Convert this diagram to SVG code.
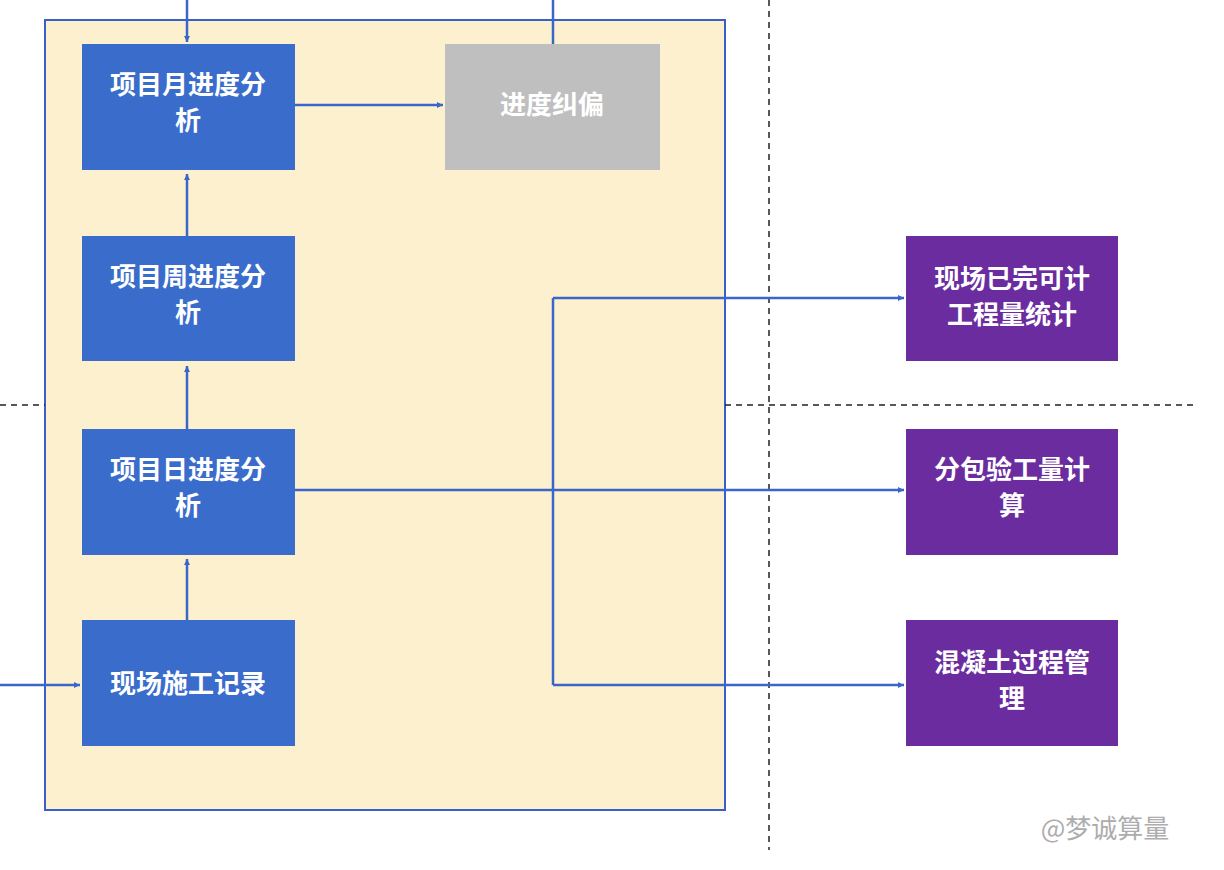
<svg xmlns="http://www.w3.org/2000/svg" width="1224" height="870" viewBox="0 0 1224 870">
<defs>
<marker id="a" viewBox="0 0 10 10" refX="10" refY="5" markerWidth="6" markerHeight="6" orient="auto" markerUnits="userSpaceOnUse"><path d="M0,0L10,5L0,10z" fill="#3a66c9"/></marker>
<style>
.b{fill:#3a6ccb}.p{fill:#6a2c9e}.g{fill:#bfbfbf}
text{font-family:"Noto Sans CJK SC",sans-serif;font-size:26px;font-weight:bold;fill:#fff;text-anchor:middle}
.c{stroke:#3a66c9;stroke-width:2.5;fill:none}
.c path{marker-end:url(#a)}
.d{stroke:#222;stroke-width:1.5;stroke-dasharray:6,5;fill:none}
</style>
</defs>
<rect width="1224" height="870" fill="#fff"/>
<rect x="45" y="20" width="680" height="790" fill="#fdf0cf" stroke="#3a5fc8" stroke-width="2"/>
<g class="d"><path d="M769 0V850"/><path d="M0 405H45"/><path d="M725 405H1195"/></g>
<g class="c">
<path d="M187 0V42"/>
<line x1="553" y1="0" x2="553" y2="44"/>
<path d="M295 105H443"/>
<path d="M187 236V174"/>
<path d="M187 429V366"/>
<path d="M187 620V559"/>
<path d="M0 685H80"/>
<path d="M295 490H904"/>
<line x1="553" y1="298" x2="553" y2="685"/>
<path d="M553 298H904"/>
<path d="M553 685H904"/>
</g>
<g id="n1"><rect class="b" x="82" y="44" width="213" height="126"/><text x="188" y="94">项目月进度分</text><text x="188" y="130">析</text></g>
<g id="n2"><rect class="g" x="445" y="44" width="215" height="126"/><text x="552" y="114">进度纠偏</text></g>
<g id="n3"><rect class="b" x="82" y="236" width="213" height="125"/><text x="188" y="286">项目周进度分</text><text x="188" y="322">析</text></g>
<g id="n4"><rect class="b" x="82" y="429" width="213" height="126"/><text x="188" y="479">项目日进度分</text><text x="188" y="515">析</text></g>
<g id="n5"><rect class="b" x="82" y="620" width="213" height="126"/><text x="188" y="693">现场施工记录</text></g>
<g id="n6"><rect class="p" x="906" y="236" width="212" height="125"/><text x="1012" y="288">现场已完可计</text><text x="1012" y="324">工程量统计</text></g>
<g id="n7"><rect class="p" x="906" y="429" width="212" height="126"/><text x="1012" y="479">分包验工量计</text><text x="1012" y="515">算</text></g>
<g id="n8"><rect class="p" x="906" y="620" width="212" height="126"/><text x="1012" y="672">混凝土过程管</text><text x="1012" y="708">理</text></g>
<text x="1105" y="838" style="fill:#999;font-weight:normal;font-size:26px;opacity:0.8">@梦诚算量</text>
</svg>
